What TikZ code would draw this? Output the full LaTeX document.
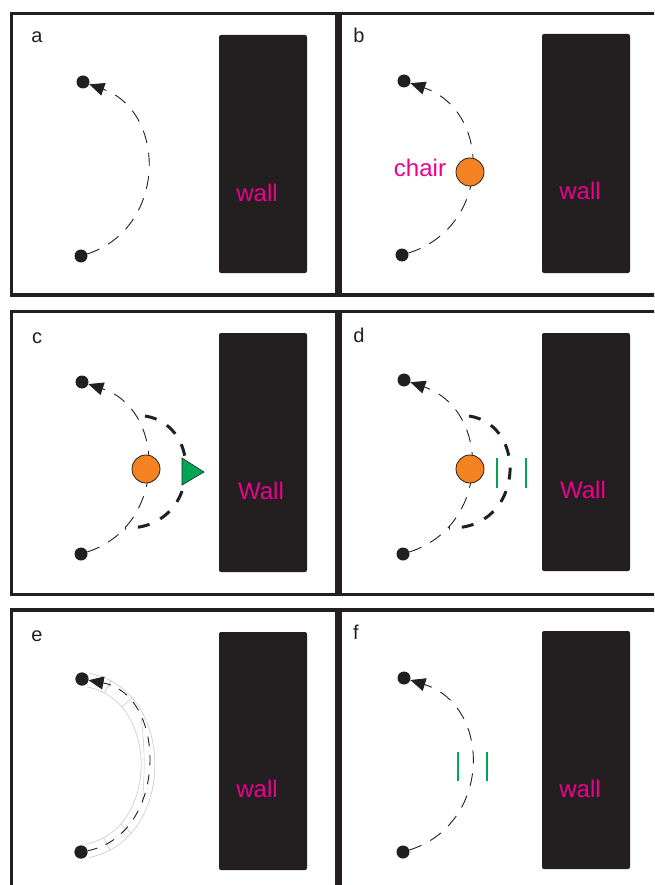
\documentclass[tikz,border=0pt]{standalone}
\usepackage{fontspec}
\setmainfont{Liberation Sans}
\usetikzlibrary{arrows.meta,decorations.markings}
\definecolor{wallc}{HTML}{231F20}
\definecolor{magc}{HTML}{EC008C}
\definecolor{orangec}{HTML}{F58220}
\definecolor{greenc}{HTML}{00A651}
\definecolor{tubec}{RGB}{200,200,200}
\definecolor{innerc}{RGB}{205,185,185}
\begin{document}
\begin{tikzpicture}[x=1pt,y=-1pt,
  panel/.style={draw=wallc,line width=3.8pt},
  wallbox/.style={fill=wallc,rounded corners=2pt},
  walltext/.style={text=magc,font=\fontsize{24}{28}\selectfont,anchor=base,inner sep=0pt},
  lbl/.style={text=wallc,font=\fontsize{20}{24}\selectfont,anchor=base,inner sep=0pt},
  dot/.style={circle,fill=wallc,inner sep=0pt,minimum size=13pt},
  chairc/.style={circle,fill=orangec,draw=wallc,line width=0.8pt,inner sep=0pt,minimum size=28pt},
  thindash/.style={draw=wallc,line width=0.9pt,dash pattern=on 13pt off 10pt},
  thickdash/.style={draw=wallc,line width=3pt,dash pattern=on 12pt off 12pt},
  arr/.style={-{Triangle[length=15pt,width=13pt]}},
  gbar/.style={draw=greenc,line width=2.6pt},
  tri/.style={fill=greenc,draw=wallc,line width=0.6pt,line join=miter},
  tube/.style={draw=tubec,line width=0.7pt,double=white,double distance=13pt}
]
\clip (0,0) rectangle (654,885);
\fill[white] (0,0) rectangle (654,885);

% panel frames
\draw[panel] (11.5,13.5) rectangle (337,295);
\draw[panel] (340,13.5) rectangle (700,295);
\draw[panel] (11.5,311.5) rectangle (337,594.5);
\draw[panel] (340,311.5) rectangle (700,594.5);
\draw[panel] (11.5,610) rectangle (337,950);
\draw[panel] (340,610) rectangle (700,950);

% walls
\fill[wallbox] (219,35) rectangle (307,273);
\fill[wallbox] (542,34) rectangle (630,273);
\fill[wallbox] (219,333) rectangle (307,572);
\fill[wallbox] (542,333) rectangle (630,571);
\fill[wallbox] (219,632) rectangle (307,870);
\fill[wallbox] (542,631) rectangle (630,869);

\node[walltext] (wa) at (257,202) {wall};
\node[walltext] (wb) at (580,200) {wall};
\node[walltext] (wc) at (261,499) {Wall};
\node[walltext] (wd) at (583,498) {Wall};
\node[walltext] (we) at (257,797) {wall};
\node[walltext] (wf) at (580,797) {wall};

% labels
\node[lbl] (la) at (37,43) {a};
\node[lbl] (lb) at (359,43) {b};
\node[lbl] (lc) at (37,343) {c};
\node[lbl] (ld) at (359,342) {d};
\node[lbl] (le) at (37,641) {e};
\node[lbl] (lf) at (356,639) {f};

% panel a
\node[dot] (aT) at (83,82) {};
\node[dot] (aB) at (81,256) {};
\draw[thindash,arr] (aB) .. controls (167,228) and (167,112) .. (aT);

% panel b
\node[dot] (bT) at (404,81) {};
\node[dot] (bB) at (402,255) {};
\draw[thindash,arr] (bB) .. controls (492,227) and (492,111) .. (bT);
\node[chairc] (bC) at (470,172) {};
\node[walltext] (bCh) at (420,177) {chair};

% panel c
\node[dot] (cT) at (82,382) {};
\node[dot] (cB) at (81,554) {};
\draw[thindash,arr] (cB) .. controls (167,526) and (167,410) .. (cT);
\coordinate (cS) at (145,416);
\coordinate (cE) at (125,528);
\draw[thickdash] (cS) .. controls (205,425) and (200,530) .. (cE);
\node[chairc] (cC) at (146,469) {};
\filldraw[tri] (182,458) -- (182,485) -- (204,472) -- cycle;

% panel d
\node[dot] (dT) at (404,380) {};
\node[dot] (dB) at (403,554) {};
\draw[thindash,arr] (dB) .. controls (491,526) and (491,410) .. (dT);
\coordinate (dS) at (469,416);
\coordinate (dE) at (449,528);
\draw[thickdash] (dS) .. controls (529,425) and (524,530) .. (dE);
\node[chairc] (dC) at (470,469) {};
\draw[gbar] (497,458) -- (497,488);
\draw[gbar] (526,458) -- (526,488);

% panel e
\node[dot] (eT) at (82,679) {};
\node[dot] (eB) at (81,852) {};
\draw[tube] (eB) .. controls (168,835) and (168,695) .. (eT);
\draw[innerc,line width=0.4pt] (141,717) .. controls (145,745) and (145,780) .. (142,803);
\path[postaction={decorate},decoration={markings,
   mark=at position 0.09 with {\draw[tubec,line width=0.6pt] (0,-7pt) -- (0,7pt);},
   mark=at position 0.2 with {\draw[tubec,line width=0.6pt] (0,-7pt) -- (0,7pt);},
   mark=at position 0.8 with {\draw[tubec,line width=0.6pt] (0,-7pt) -- (0,7pt);},
   mark=at position 0.91 with {\draw[tubec,line width=0.6pt] (0,-7pt) -- (0,7pt);}}]
   (eB) .. controls (168,835) and (168,695) .. (eT);
\draw[thindash,arr,dash pattern=on 10pt off 9pt] (eB) .. controls (168,835) and (168,695) .. (eT);
\node[dot] at (eT) {};
\node[dot] at (eB) {};

% panel f
\node[dot] (fT) at (404,678) {};
\node[dot] (fB) at (403,852) {};
\draw[thindash,arr] (fB) .. controls (492,824) and (492,706) .. (fT);
\draw[gbar] (458,752) -- (458,781);
\draw[gbar] (487,752) -- (487,781);
\end{tikzpicture}
\end{document}
